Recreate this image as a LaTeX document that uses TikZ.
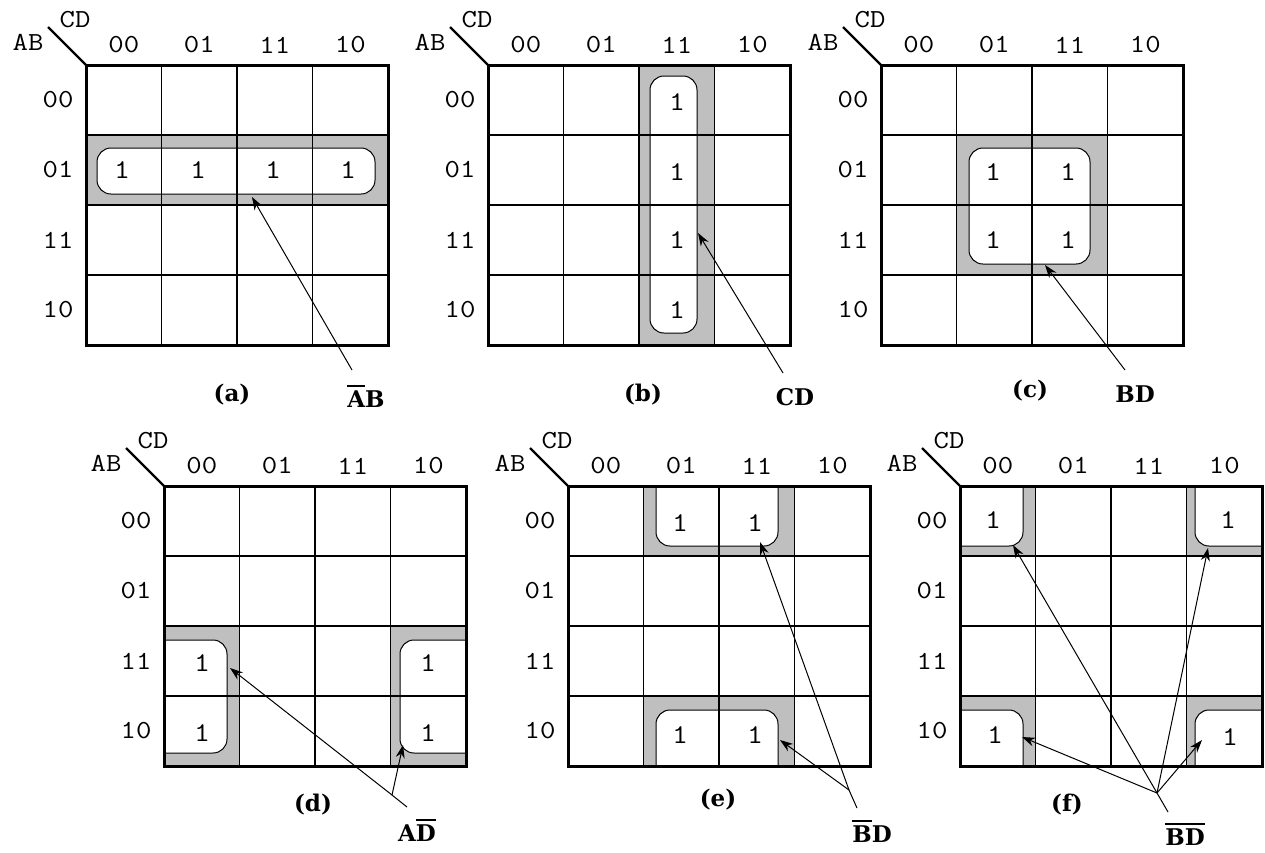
\documentclass[tikz,border=0pt]{standalone}
\usepackage{fontspec}
\usetikzlibrary{arrows.meta}
\newfontfamily\cour{Latin Modern Mono}[FakeStretch=1.15]
\newfontfamily\capfont{DejaVu Serif}
\newcommand\ovl[1]{\vbox{\hrule height 1.8pt\kern 3pt\hbox{#1}}}
\definecolor{shade}{gray}{0.75}
\tikzset{
  gridline/.style={line width=1.5pt},
  border/.style={line width=3pt},
  group/.style={draw, line width=1pt, fill=white, rounded corners=14pt},
  cellfill/.style={fill=shade},
  lbl/.style={font=\cour\fontsize{26}{26}\selectfont, inner sep=0pt},
  one/.style={font=\cour\fontsize{27}{27}\selectfont, inner sep=0pt},
  diag/.style={line width=2.2pt},
  caption/.style={font=\capfont\bfseries\fontsize{23}{27}\selectfont, inner sep=0pt, anchor=base},
  ptr/.style={line width=1pt, -{Stealth[length=13pt,width=9pt]}},
  plain/.style={line width=1pt}
}
\def\W{75.5}
\def\H{70}
\newcommand\kframe[1]{%
  \foreach \i in {1,2,3}{
    \draw[gridline] ({\i*\W},0) -- ({\i*\W},{4*\H});
    \draw[gridline] (0,{\i*\H}) -- ({4*\W},{\i*\H});
  }
  \draw[border] (0,0) rectangle ({4*\W},{4*\H});
  \foreach \t [count=\k from 0] in {00,01,11,10}{
    \node[lbl] (#1-col\k) at ({(\k+0.5)*\W},-20) {\t};
    \node[lbl] (#1-row\k) at (-28,{(\k+0.5)*\H}) {\t};
  }
  \node[lbl] (#1-AB) at (-58,-23) {AB};
  \node[lbl] (#1-CD) at (-11,-45) {CD};
  \draw[diag] (-38,-38) -- (0,0);
}
\newcommand\gridclip{\clip (0,0) rectangle ({4*\W},{4*\H});}
\begin{document}
\begin{tikzpicture}[x=1pt,y=-1pt]
\useasboundingbox[fill=white] (0,0) rectangle (1265,852);

% ---------- (a)
\begin{scope}[shift={(86,65)}]
  \fill[cellfill] (0,\H) rectangle ({4*\W},{2*\H});
  \draw[group] (11,83) rectangle (289,129);
  \kframe{a}
  \foreach \x [count=\n] in {36,112,187,262} \node[one] (a-one\n) at (\x,105) {1};
\end{scope}

% ---------- (b)
\begin{scope}[shift={(488,65)}]
  \fill[cellfill] ({2*\W},0) rectangle ({3*\W},{4*\H});
  \draw[group] (162,11) rectangle (209,268);
  \kframe{b}
  \foreach \y [count=\n] in {37,107,175,245} \node[one] (b-one\n) at (189,\y) {1};
\end{scope}

% ---------- (c)
\begin{scope}[shift={(881,65)}]
  \fill[cellfill] (\W,\H) rectangle ({3*\W},{3*\H});
  \draw[group] (88,83) rectangle (209,199);
  \kframe{c}
  \node[one] (c-one1) at (112,107) {1};
  \node[one] (c-one2) at (187,107) {1};
  \node[one] (c-one3) at (112,175) {1};
  \node[one] (c-one4) at (187,175) {1};
\end{scope}

% ---------- (d)
\begin{scope}[shift={(164,486)}]
  \fill[cellfill] (0,{2*\H}) rectangle (\W,{4*\H});
  \fill[cellfill] ({3*\W},{2*\H}) rectangle ({4*\W},{4*\H});
  \begin{scope}
    \gridclip
    \draw[group] (-20,154) rectangle (63,267);
    \draw[group] (236,154) rectangle (322,267);
  \end{scope}
  \kframe{d}
  \node[one] (d-one1) at (38,177) {1};
  \node[one] (d-one2) at (38,247) {1};
  \node[one] (d-one3) at (264,177) {1};
  \node[one] (d-one4) at (264,247) {1};
\end{scope}

% ---------- (e)
\begin{scope}[shift={(568,486)}]
  \fill[cellfill] (\W,0) rectangle ({3*\W},\H);
  \fill[cellfill] (\W,{3*\H}) rectangle ({3*\W},{4*\H});
  \begin{scope}
    \gridclip
    \draw[group] (88,-20) rectangle (210,60);
    \draw[group] (88,224) rectangle (210,300);
  \end{scope}
  \kframe{e}
  \node[one] (e-one1) at (112,37) {1};
  \node[one] (e-one2) at (187,37) {1};
  \node[one] (e-one3) at (112,249) {1};
  \node[one] (e-one4) at (187,249) {1};
\end{scope}

% ---------- (f)
\begin{scope}[shift={(960,486)}]
  \fill[cellfill] (0,0) rectangle (\W,\H);
  \fill[cellfill] ({3*\W},0) rectangle ({4*\W},\H);
  \fill[cellfill] (0,{3*\H}) rectangle (\W,{4*\H});
  \fill[cellfill] ({3*\W},{3*\H}) rectangle ({4*\W},{4*\H});
  \begin{scope}
    \gridclip
    \draw[group] (-20,-20) rectangle (63,60);
    \draw[group] (235,-20) rectangle (322,60);
    \draw[group] (-20,224) rectangle (63,300);
    \draw[group] (235,224) rectangle (322,300);
  \end{scope}
  \kframe{f}
  \node[one] (f-one1) at (33,34) {1};
  \node[one] (f-one2) at (268,34) {1};
  \node[one] (f-one3) at (35,249) {1};
  \node[one] (f-one4) at (270,251) {1};
\end{scope}

% ---------- captions and expressions
\node[caption] (capa) at (232,401) {(a)};
\node[caption] (expa) at (366,407) {\ovl{A}B};
\node[caption] (capb) at (643,401) {(b)};
\node[caption] (expb) at (795,405) {CD};
\node[caption] (capc) at (1030,397) {(c)};
\node[caption] (expc) at (1135,402) {BD};
\node[caption] (capd) at (313,811) {(d)};
\node[caption] (expd) at (417,841) {A\ovl{D}};
\node[caption] (cape) at (718,806) {(e)};
\node[caption] (expe) at (872,842) {\ovl{B}D};
\node[caption] (capf) at (1067,811) {(f)};
\node[caption] (expf) at (1185,845) {\ovl{B}\ovl{D}};

% ---------- pointer coordinates
\coordinate (sa) at (352,370);  \coordinate (ta) at (252,197);
\coordinate (sb) at (783,373);  \coordinate (tb) at (698,233);
\coordinate (sc) at (1125,370); \coordinate (tc) at (1045,265);
\coordinate (sd) at (407,807);  \coordinate (jd) at (392,795);
\coordinate (td1) at (230,668); \coordinate (td2) at (403,745);
\coordinate (se) at (857,808);  \coordinate (je) at (849,790);
\coordinate (te1) at (760,542); \coordinate (te2) at (780,740);
\coordinate (sf) at (1168,812); \coordinate (jf) at (1157,793);
\coordinate (tf1) at (1013,545); \coordinate (tf2) at (1208,548);
\coordinate (tf3) at (1022,737); \coordinate (tf4) at (1202,740);

\draw[ptr] (sa) -- (ta);
\draw[ptr] (sb) -- (tb);
\draw[ptr] (sc) -- (tc);
\draw[plain] (sd) -- (jd);
\draw[ptr] (jd) -- (td1);
\draw[ptr] (jd) -- (td2);
\draw[plain] (se) -- (je);
\draw[ptr] (je) -- (te1);
\draw[ptr] (je) -- (te2);
\draw[plain] (sf) -- (jf);
\draw[ptr] (jf) -- (tf1);
\draw[ptr] (jf) -- (tf2);
\draw[ptr] (jf) -- (tf3);
\draw[ptr] (jf) -- (tf4);
\end{tikzpicture}
\end{document}
